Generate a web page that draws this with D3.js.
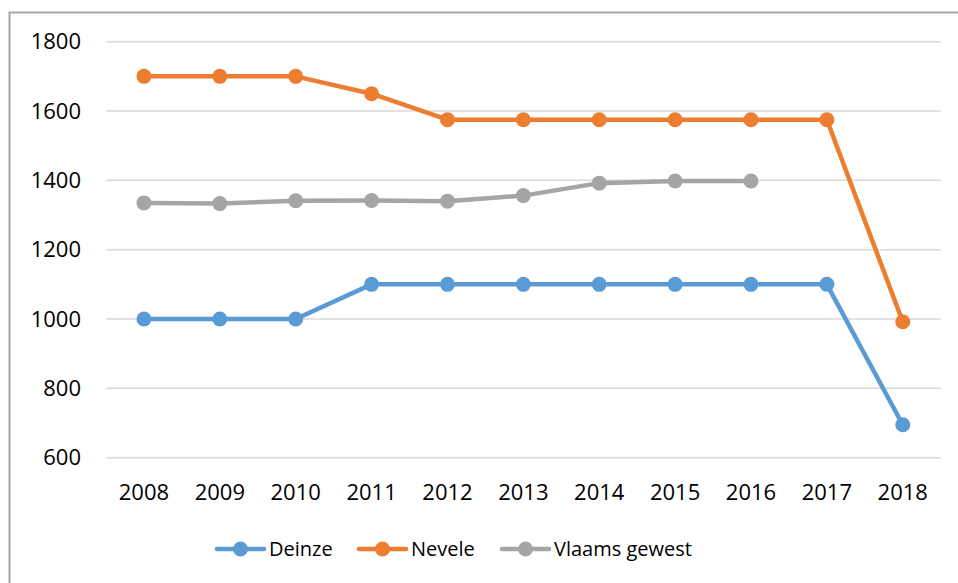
<!DOCTYPE html>
<html>
<head>
<meta charset="utf-8">
<script src="https://cdn.jsdelivr.net/npm/d3@7"></script>
<style>
  body { margin: 0; background: #fff; }
  text { font-family: 'Open Sans', sans-serif; fill: #000; }
</style>
</head>
<body>
<div id="chart"></div>
<script>
const years = ['2008', '2009', '2010', '2011', '2012', '2013', '2014', '2015', '2016', '2017', '2018']
const yTicks = [600, 800, 1000, 1200, 1400, 1600, 1800]
const deinze = [1000, 1000, 1000, 1100, 1100, 1100, 1100, 1100, 1100, 1100, 695]
const nevele = [1700, 1700, 1700, 1650, 1575, 1575, 1575, 1575, 1575, 1575, 992]
const vlaams = [1335, 1333, 1341, 1342, 1340, 1356, 1392, 1398, 1398, null, null]
const seriesNames = ['Deinze', 'Nevele', 'Vlaams gewest']
const colors = ['#5b9bd5', '#ed7d31', '#a5a5a5']

const width = 958
const height = 583
const margin = { top: 41.7, right: 17.3, bottom: 125.3, left: 106 }

const svg = d3.select('#chart')
  .append('svg')
  .attr('width', width)
  .attr('height', height)

// outer chart frame
svg.append('rect')
  .attr('x', 9.5)
  .attr('y', 12.5)
  .attr('width', width)
  .attr('height', height)
  .attr('fill', 'none')
  .attr('stroke', '#a6a6a6')
  .attr('stroke-width', 2)

const x = d3.scaleBand()
  .domain(years)
  .range([margin.left, width - margin.right])

const y = d3.scaleLinear()
  .domain([600, 1800])
  .range([height - margin.bottom, margin.top])

// grid
svg.append('g')
  .selectAll('line')
  .data(yTicks)
  .enter()
  .append('line')
  .attr('x1', margin.left)
  .attr('x2', width - margin.right)
  .attr('y1', d => y(d))
  .attr('y2', d => y(d))
  .attr('stroke', '#d9d9d9')
  .attr('stroke-width', 1.5)

// y labels
svg.append('g')
  .selectAll('text')
  .data(yTicks)
  .enter()
  .append('text')
  .attr('x', 81)
  .attr('y', d => y(d))
  .attr('dy', '0.35em')
  .attr('text-anchor', 'end')
  .attr('font-size', 22)
  .text(d => d)

// x labels
svg.append('g')
  .selectAll('text')
  .data(years)
  .enter()
  .append('text')
  .attr('x', d => x(d) + x.bandwidth() / 2)
  .attr('y', 492)
  .attr('dy', '0.35em')
  .attr('text-anchor', 'middle')
  .attr('font-size', 22)
  .text(d => d)

const series = [deinze, nevele, vlaams].map((values, i) => ({
  name: seriesNames[i],
  color: colors[i],
  points: values.map((v, j) => ({ year: years[j], value: v })).filter(p => p.value !== null)
}))

const line = d3.line()
  .x(d => x(d.year) + x.bandwidth() / 2)
  .y(d => y(d.value))

// draw grey first so it sits under the others like the original
const order = [2, 1, 0]
order.forEach(i => {
  const s = series[i]
  const g = svg.append('g')
  g.append('path')
    .datum(s.points)
    .attr('d', line)
    .attr('fill', 'none')
    .attr('stroke', s.color)
    .attr('stroke-width', 4.5)
    .attr('stroke-linejoin', 'round')
  g.selectAll('circle')
    .data(s.points)
    .enter()
    .append('circle')
    .attr('cx', d => x(d.year) + x.bandwidth() / 2)
    .attr('cy', d => y(d.value))
    .attr('r', 7.5)
    .attr('fill', s.color)
})

// legend
const legendX = [217, 359, 502]
const legendY = 549
const legend = svg.append('g')
  .selectAll('g')
  .data(series)
  .enter()
  .append('g')
  .attr('transform', (d, i) => 'translate(' + legendX[i] + ',' + legendY + ')')

legend.append('line')
  .attr('x1', 0)
  .attr('x2', 47)
  .attr('stroke', d => d.color)
  .attr('stroke-width', 4.5)
  .attr('stroke-linecap', 'round')

legend.append('circle')
  .attr('cx', 23.5)
  .attr('r', 7.5)
  .attr('fill', d => d.color)

legend.append('text')
  .attr('x', 52)
  .attr('dy', '0.35em')
  .attr('font-size', 20)
  .text(d => d.name)
</script>
</body>
</html>
